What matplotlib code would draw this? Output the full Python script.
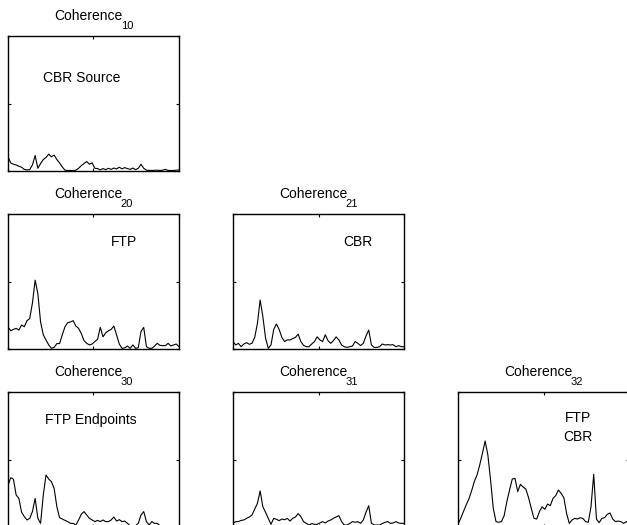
import numpy as np
import matplotlib
matplotlib.use("Agg")
import matplotlib.pyplot as plt

plt.rcParams["font.family"] = ["Liberation Sans", "DejaVu Sans"]

# coherence estimates, one value per frequency bin
coh_10 = [0.105, 0.06, 0.05, 0.045, 0.035, 0.028, 0.012, 0.008, 0.01, 0.045,
          0.115, 0.02, 0.055, 0.085, 0.10, 0.125, 0.105, 0.118, 0.085, 0.06,
          0.03, 0.006, 0.004, 0.004, 0.002, 0.006, 0.02, 0.04, 0.055, 0.07,
          0.05, 0.06, 0.02, 0.018, 0.008, 0.018, 0.01, 0.02, 0.012, 0.022,
          0.015, 0.028, 0.016, 0.025, 0.018, 0.012, 0.022, 0.01, 0.02, 0.05,
          0.02, 0.006, 0.005, 0.004, 0.005, 0.006, 0.004, 0.006, 0.012, 0.004,
          0.004, 0.004, 0.006, 0.008]

coh_20 = [0.165, 0.135, 0.145, 0.153, 0.14, 0.178, 0.165, 0.21, 0.225, 0.34,
          0.51, 0.41, 0.2, 0.105, 0.067, 0.03, 0.005, 0.012, 0.04, 0.04,
          0.105, 0.165, 0.195, 0.2, 0.21, 0.17, 0.153, 0.115, 0.062, 0.042,
          0.03, 0.037, 0.055, 0.072, 0.16, 0.09, 0.12, 0.135, 0.145, 0.17,
          0.105, 0.037, 0.005, 0.008, 0.022, 0.005, 0.03, 0.005, 0.01, 0.13,
          0.16, 0.017, 0.005, 0.005, 0.022, 0.042, 0.027, 0.025, 0.025, 0.042,
          0.022, 0.03, 0.037, 0.017]

coh_21 = [0.055, 0.03, 0.042, 0.017, 0.037, 0.047, 0.035, 0.042, 0.086, 0.19,
          0.363, 0.24, 0.08, 0.005, 0.03, 0.145, 0.185, 0.145, 0.086, 0.055,
          0.067, 0.067, 0.077, 0.086, 0.11, 0.055, 0.027, 0.017, 0.017, 0.037,
          0.055, 0.09, 0.067, 0.055, 0.105, 0.062, 0.042, 0.062, 0.09, 0.067,
          0.03, 0.017, 0.012, 0.017, 0.022, 0.055, 0.042, 0.025, 0.042, 0.096,
          0.14, 0.03, 0.012, 0.012, 0.017, 0.037, 0.03, 0.032, 0.03, 0.032,
          0.017, 0.025, 0.017, 0.017]

coh_30 = [0.31, 0.365, 0.355, 0.237, 0.212, 0.109, 0.077, 0.052, 0.064, 0.114,
          0.212, 0.064, 0.027, 0.237, 0.385, 0.355, 0.336, 0.286, 0.15, 0.069,
          0.059, 0.049, 0.04, 0.027, 0.027, 0.015, 0.052, 0.094, 0.114, 0.089,
          0.064, 0.052, 0.04, 0.049, 0.04, 0.052, 0.04, 0.04, 0.052, 0.074,
          0.044, 0.054, 0.04, 0.044, 0.027, 0.01, 0.005, 0.01, 0.027, 0.089,
          0.114, 0.04, 0.015, 0.04, 0.027, 0.027, 0.01, 0.005, 0.005, 0.01,
          0.005, 0.01, 0.005, 0.005]

coh_31 = [0.027, 0.04, 0.04, 0.049, 0.052, 0.064, 0.074, 0.089, 0.133, 0.175,
          0.267, 0.15, 0.109, 0.064, 0.02, 0.064, 0.057, 0.047, 0.059, 0.054,
          0.064, 0.044, 0.064, 0.074, 0.099, 0.077, 0.04, 0.027, 0.015, 0.025,
          0.02, 0.02, 0.03, 0.04, 0.03, 0.044, 0.052, 0.064, 0.074, 0.084,
          0.04, 0.015, 0.015, 0.025, 0.04, 0.035, 0.04, 0.027, 0.052, 0.109,
          0.158, 0.027, 0.015, 0.015, 0.015, 0.025, 0.035, 0.04, 0.027, 0.03,
          0.04, 0.03, 0.027, 0.027]

coh_32 = [0.02, 0.064, 0.114, 0.163, 0.207, 0.267, 0.336, 0.385, 0.459, 0.546,
          0.637, 0.533, 0.348, 0.138, 0.04, 0.035, 0.04, 0.084, 0.188, 0.274,
          0.356, 0.36, 0.262, 0.316, 0.296, 0.281, 0.217, 0.138, 0.064, 0.059,
          0.114, 0.15, 0.131, 0.17, 0.158, 0.212, 0.232, 0.274, 0.249, 0.217,
          0.101, 0.027, 0.052, 0.064, 0.059, 0.069, 0.064, 0.04, 0.035, 0.15,
          0.39, 0.059, 0.032, 0.064, 0.069, 0.094, 0.104, 0.059, 0.04, 0.044,
          0.04, 0.027, 0.04, 0.027]

# (row, col, title subscript, values, label, label x, label y)
panels = [
    (0, 0, "10", coh_10, "CBR Source", 0.43, 0.69),
    (1, 0, "20", coh_20, "FTP", 0.68, 0.79),
    (1, 1, "21", coh_21, "CBR", 0.73, 0.79),
    (2, 0, "30", coh_30, "FTP Endpoints", 0.485, 0.79),
    (2, 1, "31", coh_31, "", 0.5, 0.79),
    (2, 2, "32", coh_32, "FTP\nCBR", 0.70, 0.74),
]


def title_with_sub(ax, sub):
    # "Coherence" with a dropped subscript, centred over the axes
    ax.annotate("Coherence", xy=(0.5, 1), xycoords="axes fraction",
                xytext=(20.6, 11.5), textcoords="offset points",
                ha="right", va="baseline", fontsize=10)
    ax.annotate(sub, xy=(0.5, 1), xycoords="axes fraction",
                xytext=(19.6, 4.9), textcoords="offset points",
                ha="left", va="baseline", fontsize=8)


def main():
    W, H = 627, 525
    fig = plt.figure(figsize=(W / 100, H / 100), dpi=100)

    col_left = [8, 233, 458]
    row_top = [36, 214, 392]
    aw, ah = 171, 135

    for row, col, sub, vals, label, lx, ly in panels:
        left = col_left[col] / W
        bottom = (H - row_top[row] - ah) / H
        ax = fig.add_axes([left, bottom, aw / W, ah / H])
        y = np.array(vals)
        x = np.arange(len(y))
        ax.plot(x, y, color="black", lw=0.8)
        ax.set_xlim(0, len(y) - 1)
        ax.set_ylim(0, 1)
        ax.set_xticks([0, (len(y) - 1) / 2, len(y) - 1])
        ax.set_yticks([0, 0.5, 1])
        ax.set_xticklabels([])
        ax.set_yticklabels([])
        ax.tick_params(direction="in", length=2.5, width=0.8,
                       top=True, right=True)
        for s in ax.spines.values():
            s.set_linewidth(1.0)
        title_with_sub(ax, sub)
        if label:
            ax.text(lx, ly, label, transform=ax.transAxes, ha="center",
                    va="center", fontsize=10, linespacing=1.45)

    fig.savefig("out.png", dpi=100)


if __name__ == "__main__":
    main()
